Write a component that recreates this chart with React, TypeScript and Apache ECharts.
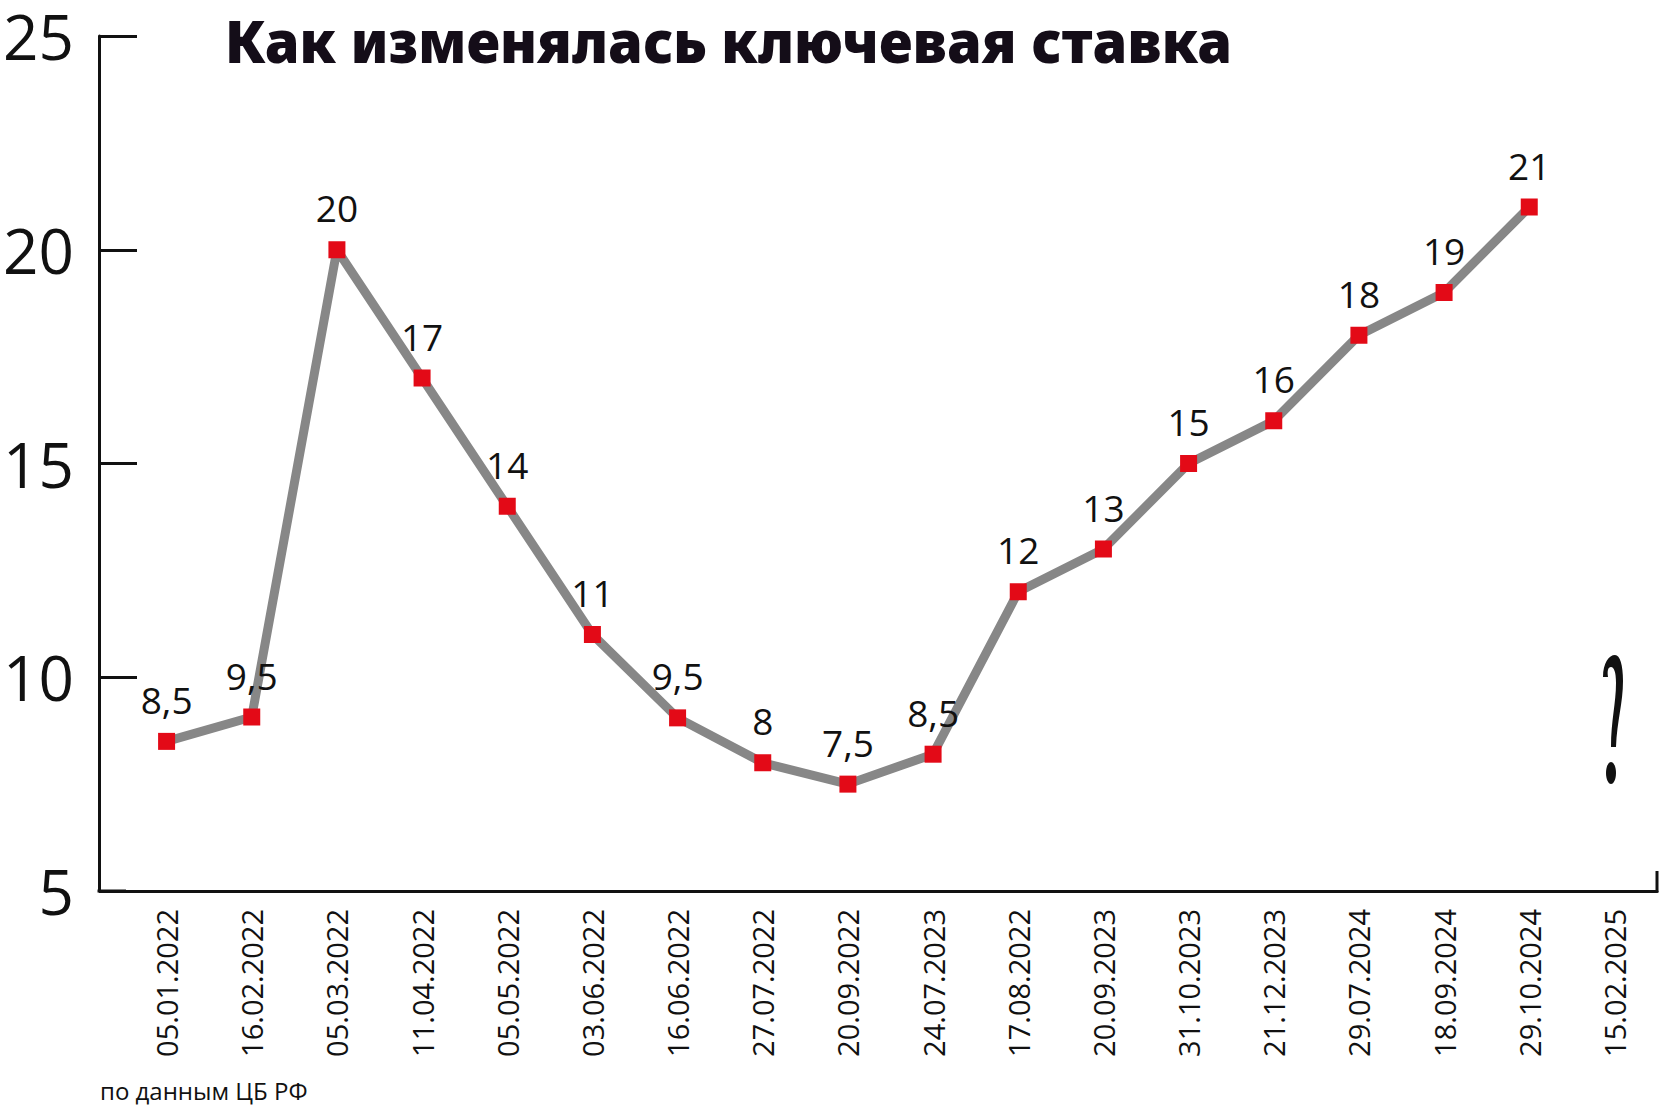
import React, { useEffect, useRef } from "react";
import * as echarts from "echarts";

const dates = [
  "05.01.2022", "16.02.2022", "05.03.2022", "11.04.2022", "05.05.2022", "03.06.2022",
  "16.06.2022", "27.07.2022", "20.09.2022", "24.07.2023", "17.08.2022", "20.09.2023",
  "31.10.2023", "21.12.2023", "29.07.2024", "18.09.2024", "29.10.2024", "15.02.2025",
];
// plotted positions
const rates = [8.5, 9.07, 20, 17, 14, 11, 9.05, 8, 7.5, 8.2, 12, 13, 15, 16, 18, 19, 21, null];
// printed labels
const rateLabels = [
  "8,5", "9,5", "20", "17", "14", "11", "9,5", "8", "7,5", "8,5",
  "12", "13", "15", "16", "18", "19", "21", "",
];
const yMin = 5;
const yMax = 25;
const yStep = 5;
const titleText = "Как изменялась ключевая ставка";
const sourceText = "по данным ЦБ РФ";

const qMarkPath =
  "M0 22 C0 8 6 0 12 0 C17 0 20 10 20 26 C20 48 14 66 13 92 L8 92 C8 66 13 48 13 28 C13 17 11 12 8 12 C5 12 4 16 5 22 Z";
echarts.graphic.registerShape("qmarkShape", echarts.graphic.extendPath(qMarkPath, {}) as any);

export default function App() {
  const ref = useRef<HTMLDivElement>(null);
  useEffect(() => {
    document.body.style.margin = "0";
    const chart = echarts.init(ref.current!, null, { renderer: "svg" });
    const ink = "#111111";
    chart.setOption({
      animation: false,
      backgroundColor: "#ffffff",
      grid: { left: 124, right: 5, top: 36, bottom: 218, containLabel: false },
      xAxis: {
        type: "category",
        data: dates,
        boundaryGap: true,
        axisLine: { show: true, lineStyle: { color: ink, width: 3 } },
        axisTick: { show: false },
        axisLabel: {
          rotate: 90,
          margin: 18,
          fontSize: 29,
          fontFamily: "Open Sans",
          color: ink,
          interval: 0,
        },
        splitLine: { show: false },
      },
      yAxis: {
        type: "value",
        min: yMin,
        max: yMax,
        interval: yStep,
        offset: 25,
        axisLine: { show: true, lineStyle: { color: ink, width: 3 } },
        axisTick: { show: true, inside: true, length: 38, lineStyle: { color: ink, width: 3 } },
        axisLabel: { fontSize: 62, lineHeight: 50, fontFamily: "Open Sans", color: ink, margin: 25 },
        splitLine: { show: false },
      },
      series: [
        {
          type: "line",
          data: rates,
          connectNulls: false,
          symbol: "rect",
          symbolSize: 17,
          itemStyle: { color: "#e30a17" },
          lineStyle: { color: "#878787", width: 9 },
          z: 3,
          label: {
            show: true,
            position: "top",
            distance: 15,
            fontSize: 37,
            fontFamily: "Open Sans",
            color: ink,
            formatter: (p: any) => rateLabels[p.dataIndex],
          },
        },
      ],
      graphic: [
        {
          type: "text",
          x: 225,
          y: 12,
          scaleX: 0.965,
          style: {
            text: titleText,
            fontSize: 58,
            fontWeight: 900,
            fontFamily: "Noto Sans",
            fill: "#140d18",
          },
        },
        {
          type: "text",
          left: 100,
          top: 1078,
          style: { text: sourceText, fontSize: 24, fontFamily: "Open Sans", fill: ink },
        },
        {
          type: "line",
          shape: { x1: 97.5, y1: 891, x2: 126, y2: 891 },
          style: { stroke: ink, lineWidth: 3 },
        },
        {
          type: "line",
          shape: { x1: 1657, y1: 871, x2: 1657, y2: 892.5 },
          style: { stroke: ink, lineWidth: 3 },
        },
        {
          type: "qmarkShape",
          x: 1603,
          y: 655,
          style: { fill: ink },
        },
        {
          type: "ellipse",
          shape: { cx: 1611, cy: 773, rx: 5, ry: 11 },
          style: { fill: ink },
        },
      ],
    });
    return () => chart.dispose();
  }, []);
  return <div ref={ref} style={{ width: 1662, height: 1109 }} />;
}
